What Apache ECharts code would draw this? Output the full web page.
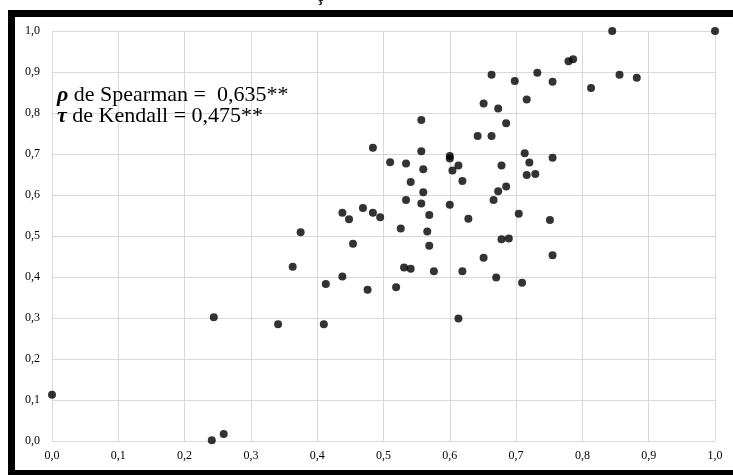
<!DOCTYPE html>
<html>
<head>
<meta charset="utf-8">
<script src="https://cdn.jsdelivr.net/npm/echarts@6/dist/echarts.min.js"></script>
<style>
  html, body { margin: 0; padding: 0; background: #fff; }
  #chart { width: 733px; height: 475px; }
</style>
</head>
<body>
<div id="chart"></div>
<script>
// valores (x, y)
const xValues = [
  0.557, 0.484, 0.557, 0.510, 0.534, 0.560, 0.541, 0.560, 0.534, 0.557,
  0.600, 0.569, 0.438, 0.448, 0.469, 0.484, 0.495, 0.375, 0.526, 0.566,
  0.454, 0.569, 0.363, 0.531, 0.541, 0.576, 0.438,
  0.845, 0.779, 0.786, 0.663, 0.732, 0.698, 0.755, 0.856, 0.882, 0.813,
  0.716, 0.651, 0.673, 0.685, 0.642, 0.663, 0.600, 0.600, 0.613, 0.604,
  0.619, 0.678, 0.713, 0.720, 0.716, 0.729, 0.755, 0.685, 0.673, 0.666,
  0.628, 0.704, 0.751, 0.678, 0.689, 0.651, 0.755, 0.619, 0.670, 0.709,
  0.613,
  0.413, 0.476, 0.519, 0.244, 0.341, 0.410, 0.241, 0.259,
  0.000, 1.000
];
const yValues = [
  0.783, 0.715, 0.707, 0.680, 0.677, 0.663, 0.632, 0.607, 0.588, 0.579,
  0.576, 0.551, 0.557, 0.541, 0.568, 0.557, 0.546, 0.509, 0.518, 0.511,
  0.481, 0.476, 0.425, 0.423, 0.420, 0.414, 0.401,
  1.000, 0.926, 0.931, 0.893, 0.898, 0.878, 0.876, 0.893, 0.886, 0.861,
  0.833, 0.823, 0.811, 0.775, 0.744, 0.744, 0.695, 0.689, 0.672, 0.660,
  0.634, 0.672, 0.702, 0.679, 0.649, 0.651, 0.691, 0.621, 0.609, 0.588,
  0.542, 0.554, 0.539, 0.492, 0.494, 0.447, 0.453, 0.414, 0.399, 0.386,
  0.299,
  0.383, 0.369, 0.375, 0.302, 0.285, 0.285, 0.002, 0.017,
  0.113, 1.000
];
const tickLabels = ['0,0', '0,1', '0,2', '0,3', '0,4', '0,5', '0,6', '0,7', '0,8', '0,9', '1,0'];
const rhoValue = '0,635**';
const tauValue = '0,475**';

const FONT = '"Liberation Serif", "Times New Roman", serif';
const points = xValues.map((x, i) => [x, yValues[i]]);

const axisCommon = {
  type: 'value',
  min: 0,
  max: 1,
  interval: 0.1,
  axisLine: { show: false },
  axisTick: { show: false },
  splitLine: { show: true, lineStyle: { color: '#d9d9d9', width: 1 } },
  axisLabel: {
    color: '#000',
    fontFamily: FONT,
    fontSize: 12,
    formatter: v => tickLabels[Math.round(v * 10)]
  }
};

const chart = echarts.init(document.getElementById('chart'), null, { renderer: 'canvas' });
chart.setOption({
  animation: false,
  backgroundColor: '#fff',
  grid: { left: 52, right: 18, top: 31, bottom: 34 },
  title: {
    text: '{b|ρ} de Spearman =  ' + rhoValue + '\n{b|τ} de Kendall = ' + tauValue,
    left: 57,
    top: 85,
    padding: 0,
    textStyle: {
      fontFamily: FONT,
      fontSize: 22,
      fontWeight: 'normal',
      color: '#000',
      lineHeight: 21,
      rich: {
        b: { fontFamily: FONT, fontSize: 22, fontWeight: 'bold', fontStyle: 'italic', color: '#000', lineHeight: 21 }
      }
    }
  },
  xAxis: Object.assign({}, axisCommon, {
    axisLabel: Object.assign({}, axisCommon.axisLabel, { margin: 9 })
  }),
  yAxis: Object.assign({}, axisCommon, {
    axisLabel: Object.assign({}, axisCommon.axisLabel, { margin: 12 })
  }),
  graphic: [
    // moldura preta
    { type: 'rect', z: -20, silent: true, shape: { x: 8, y: 10, width: 725, height: 465 }, style: { fill: '#000' } },
    { type: 'rect', z: -19, silent: true, shape: { x: 15, y: 17, width: 718, height: 453 }, style: { fill: '#fff' } },
    // resto do título cortado
    { type: 'text', z: 10, silent: true, style: { x: 320, y: -3, text: 'ç', fontFamily: FONT, fontSize: 16, fontWeight: 'bold', fill: '#000', align: 'center', verticalAlign: 'middle' } }
  ],
  series: [{
    type: 'scatter',
    data: points,
    symbol: 'circle',
    symbolSize: 8,
    itemStyle: { color: '#000' }
  }]
});
</script>
</body>
</html>
